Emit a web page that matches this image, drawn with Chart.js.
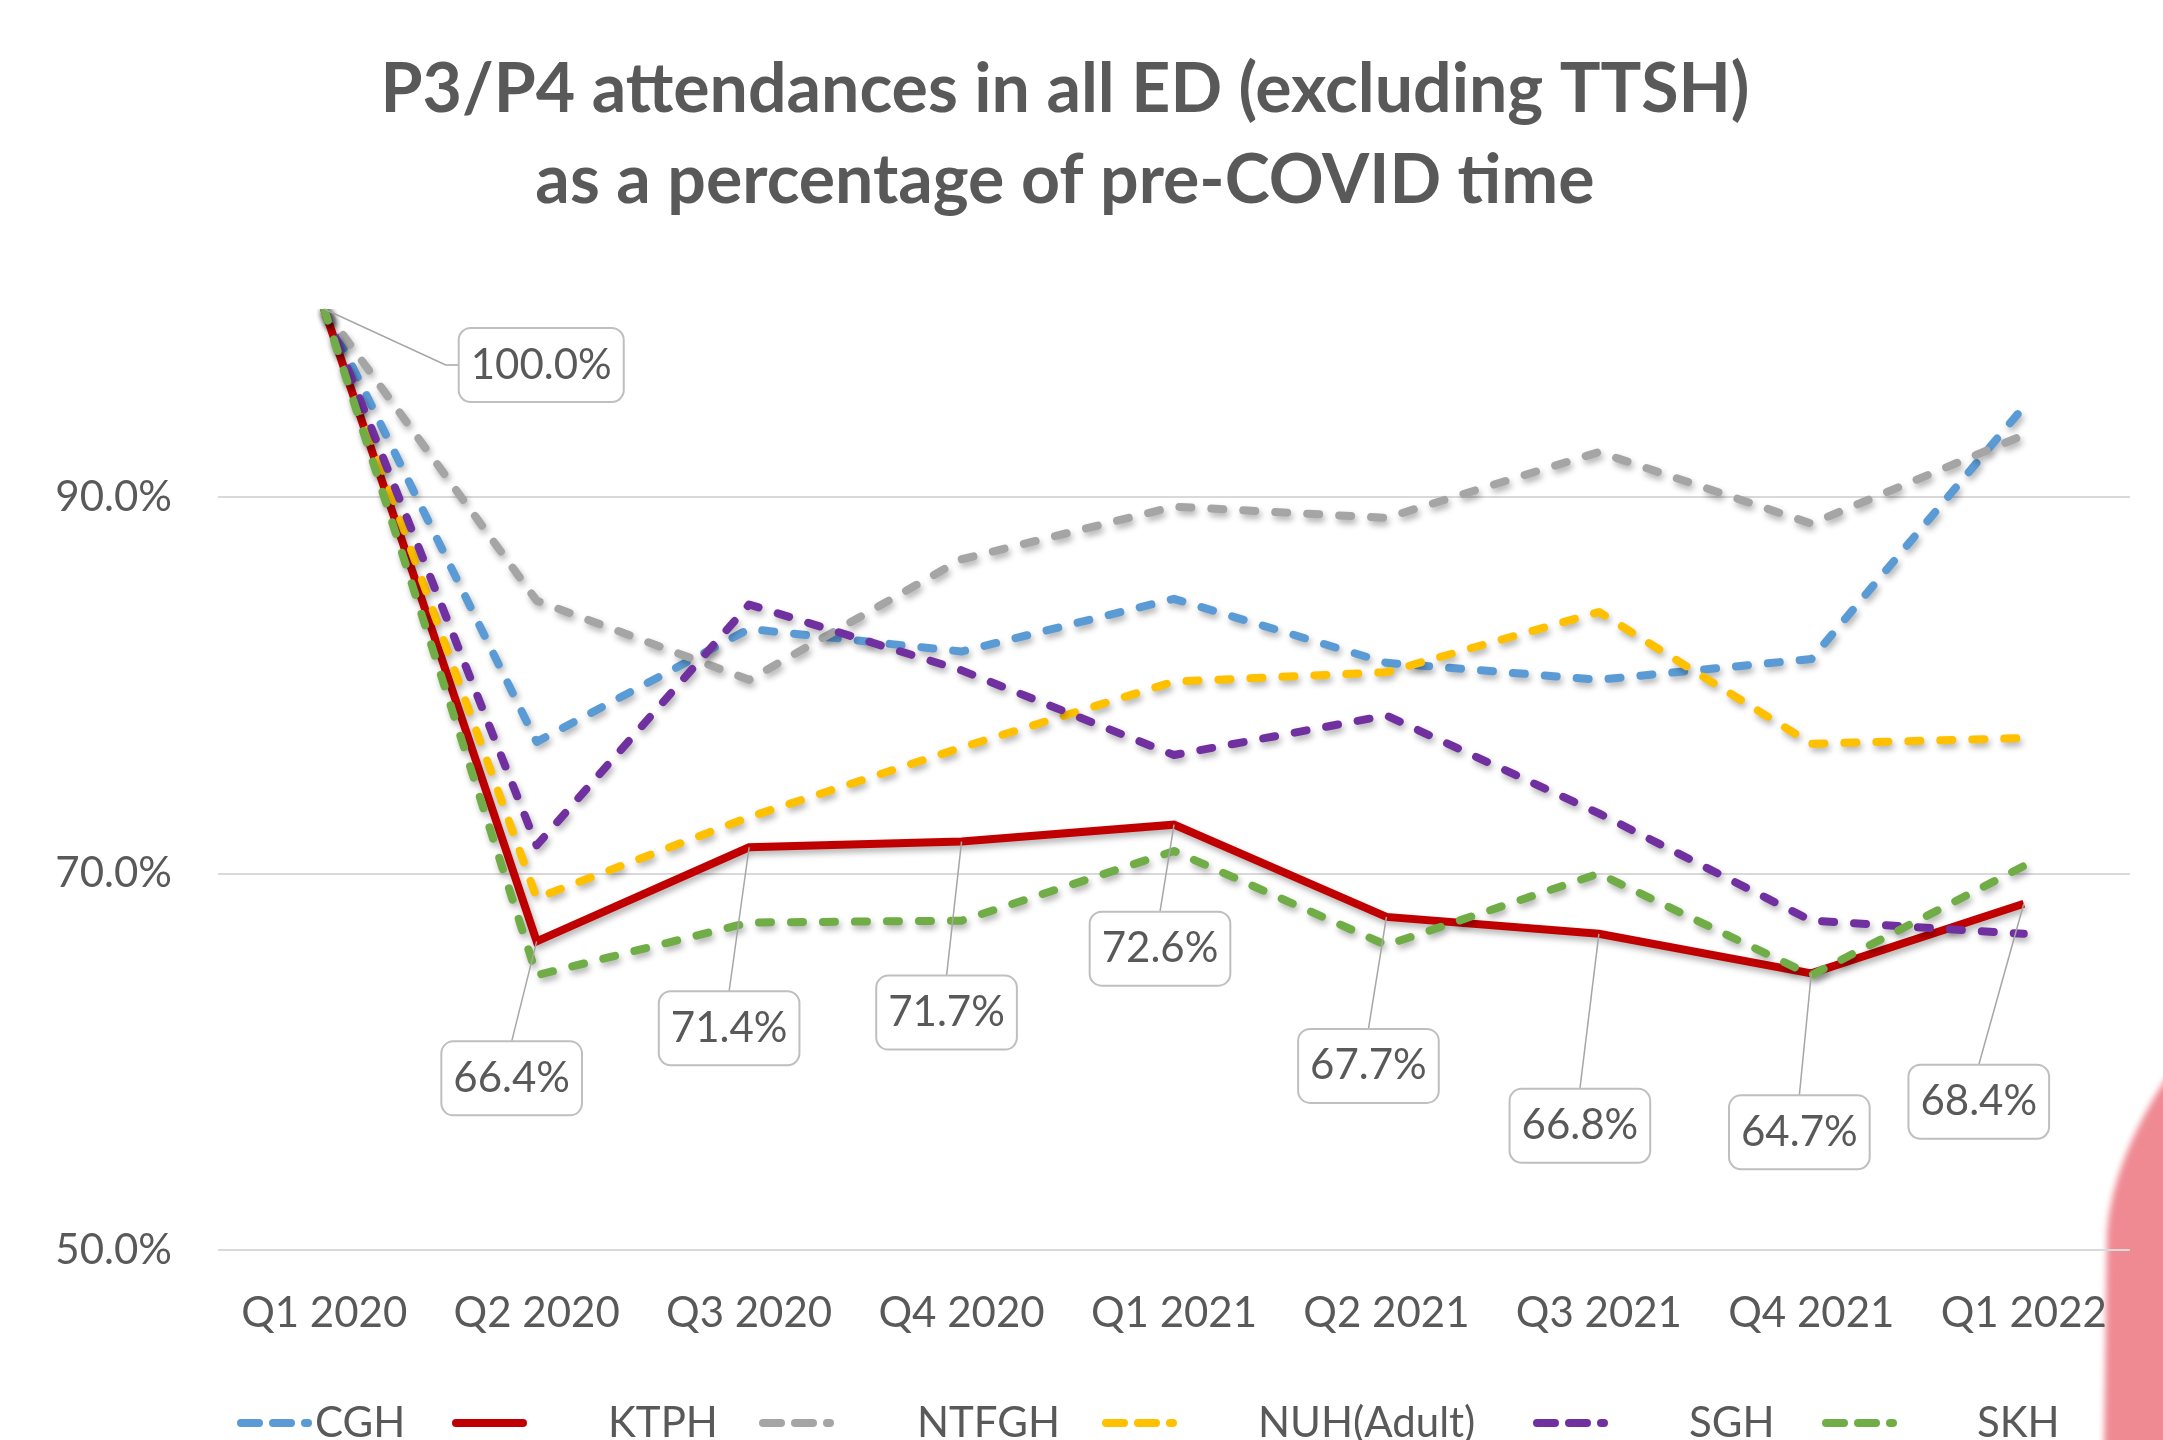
<!DOCTYPE html>
<html>
<head>
<meta charset="utf-8">
<script src="https://cdn.jsdelivr.net/npm/chart.js@4.4.1/dist/chart.umd.min.js"></script>
<style>
  html, body { margin: 0; padding: 0; background: #ffffff; }
  #wrap { width: 2163px; height: 1440px; position: relative; }
</style>
</head>
<body>
<div id="wrap"><canvas id="c" width="2163" height="1440"></canvas></div>
<script>
// ---- data ----
const categories = ['Q1 2020', 'Q2 2020', 'Q3 2020', 'Q4 2020', 'Q1 2021', 'Q2 2021', 'Q3 2021', 'Q4 2021', 'Q1 2022'];
const seriesNames = ['CGH', 'KTPH', 'NTFGH', 'NUH(Adult)', 'SGH', 'SKH'];
const cgh   = [100, 77.0, 83.0, 81.8, 84.6, 81.2, 80.3, 81.4, 94.8];
const ktph  = [100, 66.4, 71.4, 71.7, 72.6, 67.7, 66.8, 64.7, 68.4];
const ntfgh = [100, 84.5, 80.3, 86.7, 89.5, 88.9, 92.4, 88.6, 93.3];
const nuh   = [100, 68.7, 73.0, 76.7, 80.2, 80.7, 83.9, 76.9, 77.2];
const sgh   = [100, 71.5, 84.3, 80.8, 76.3, 78.4, 73.2, 67.5, 66.8];
const skh   = [100, 64.6, 67.4, 67.5, 71.2, 66.2, 70.0, 64.6, 70.4];
const yTickValues = [50, 70, 90];
const titleLines = ['P3/P4 attendances in all ED (excluding TTSH)', 'as a percentage of pre-COVID time'];

// ---- styles ----
const TEXT = '#595959';
const FONT = 'Lato, "Open Sans", sans-serif';
const colors = ['#5B9BD5', '#C00000', '#A5A5A5', '#FFC000', '#7030A0', '#70AD47'];
const dashed = [true, false, true, true, true, true];
const DASH = [12, 20];
const allSeries = [cgh, ktph, ntfgh, nuh, sgh, skh];

const datasets = allSeries.map((vals, i) => ({
  label: seriesNames[i],
  data: vals,
  borderColor: colors[i],
  backgroundColor: colors[i],
  borderWidth: 8,
  borderDash: dashed[i] ? DASH : [],
  borderCapStyle: dashed[i] ? 'round' : 'butt',
  borderJoinStyle: dashed[i] ? 'round' : 'miter',
  pointRadius: 0,
  pointHoverRadius: 0,
  tension: 0,
  fill: false,
  order: allSeries.length - 1 - i
}));

// label offsets (px) from the KTPH point to the centre of its callout box
const labelOffsets = [[217, 56], [-25, 137], [-20, 181], [-15, 171], [-14, 124], [-18, 149], [-19, 192], [-12, 159], [-45, 198]];
// legend layout: sample start x and text start x
const legendSampleX = [237, 452, 759, 1102, 1533, 1822];
const legendTextX = [315, 608, 917, 1258, 1689, 1977];

const bgPlugin = {
  id: 'bg',
  beforeDraw(chart) {
    const ctx = chart.ctx;
    ctx.save();
    ctx.fillStyle = '#ffffff';
    ctx.fillRect(0, 0, chart.width, chart.height);
    ctx.filter = 'blur(3px)';
    ctx.fillStyle = '#EF8A93';
    ctx.beginPath();
    ctx.moveTo(2170, 1072);
    ctx.quadraticCurveTo(2112, 1160, 2107, 1232);
    ctx.lineTo(2104, 1450);
    ctx.lineTo(2170, 1450);
    ctx.closePath();
    ctx.fill();
    ctx.restore();
  }
};

const shadowPlugin = {
  id: 'lineShadow',
  beforeDatasetDraw(chart) {
    const ctx = chart.ctx;
    ctx.save();
    ctx.shadowColor = 'rgba(0,0,0,0.30)';
    ctx.shadowBlur = 6;
    ctx.shadowOffsetX = 2;
    ctx.shadowOffsetY = 4;
  },
  afterDatasetDraw(chart) {
    chart.ctx.restore();
  }
};

const labelPlugin = {
  id: 'ktphLabels',
  afterDatasetsDraw(chart) {
    const idx = seriesNames.indexOf('KTPH');
    const meta = chart.getDatasetMeta(idx);
    const ctx = chart.ctx;
    ctx.save();
    ctx.font = '42px ' + FONT;
    meta.data.forEach((pt, i) => {
      const [dx, dy] = labelOffsets[i];
      const text = ktph[i].toFixed(1) + '%';
      const w = ctx.measureText(text).width + 24, h = 74;
      const cx = pt.x + dx, cy = pt.y + dy;
      const left = cx - w / 2, top = cy - h / 2;
      ctx.strokeStyle = '#A6A6A6';
      ctx.lineWidth = 1.5;
      ctx.setLineDash([]);
      ctx.beginPath();
      ctx.moveTo(pt.x, pt.y);
      if (Math.abs(dx) > Math.abs(dy)) {
        const ex = dx > 0 ? left : left + w;
        ctx.lineTo(ex + (dx > 0 ? -13 : 13), cy);
        ctx.lineTo(ex, cy);
      } else {
        ctx.lineTo(cx, dy > 0 ? top : top + h);
      }
      ctx.stroke();
      ctx.beginPath();
      ctx.roundRect(left, top, w, h, 12);
      ctx.fillStyle = '#ffffff';
      ctx.fill();
      ctx.strokeStyle = '#BFBFBF';
      ctx.lineWidth = 2;
      ctx.stroke();
      ctx.fillStyle = TEXT;
      ctx.textAlign = 'center';
      ctx.textBaseline = 'middle';
      ctx.fillText(text, cx, cy);
    });
    ctx.restore();
  }
};

const legendPlugin = {
  id: 'customLegend',
  afterDraw(chart) {
    const ctx = chart.ctx;
    const y = 1423;
    ctx.save();
    seriesNames.forEach((name, i) => {
      const sx = legendSampleX[i];
      ctx.strokeStyle = colors[i];
      ctx.lineWidth = 8;
      ctx.lineCap = 'round';
      ctx.setLineDash(dashed[i] ? [18, 14] : []);
      ctx.beginPath();
      ctx.moveTo(sx + 4, y);
      ctx.lineTo(sx + 71, y);
      ctx.stroke();
      ctx.setLineDash([]);
      ctx.fillStyle = TEXT;
      ctx.font = '42px ' + FONT;
      ctx.textAlign = 'left';
      ctx.textBaseline = 'middle';
      ctx.fillText(name, legendTextX[i], y);
    });
    ctx.restore();
  }
};

new Chart(document.getElementById('c'), {
  type: 'line',
  data: { labels: categories, datasets },
  plugins: [bgPlugin, shadowPlugin, labelPlugin, legendPlugin],
  options: {
    responsive: false,
    devicePixelRatio: 1,
    animation: false,
    events: [],
    layout: { padding: { left: 0, right: 33, top: 0, bottom: 90 } },
    plugins: {
      legend: { display: false },
      tooltip: { enabled: false },
      title: {
        display: true,
        text: titleLines,
        color: TEXT,
        font: { family: FONT, weight: 'bold', size: 68, lineHeight: 91 / 68 },
        padding: { top: 45, bottom: 82 }
      }
    },
    scales: {
      x: {
        offset: true,
        grid: { display: false, drawTicks: false },
        border: { display: false },
        ticks: { color: TEXT, font: { family: FONT, size: 42 }, padding: 38, maxRotation: 0, autoSkip: false },
        afterFit(s) { s.height = 100; }
      },
      y: {
        min: 50,
        max: 100,
        grid: { color: '#D9D9D9', lineWidth: 2, drawTicks: false },
        border: { display: false },
        ticks: {
          color: TEXT,
          font: { family: FONT, size: 42 },
          padding: 46,
          callback: v => v.toFixed(1) + '%'
        },
        afterBuildTicks(s) { s.ticks = yTickValues.map(v => ({ value: v })); },
        afterFit(s) { s.width = 218; }
      }
    }
  }
});
</script>
</body>
</html>
